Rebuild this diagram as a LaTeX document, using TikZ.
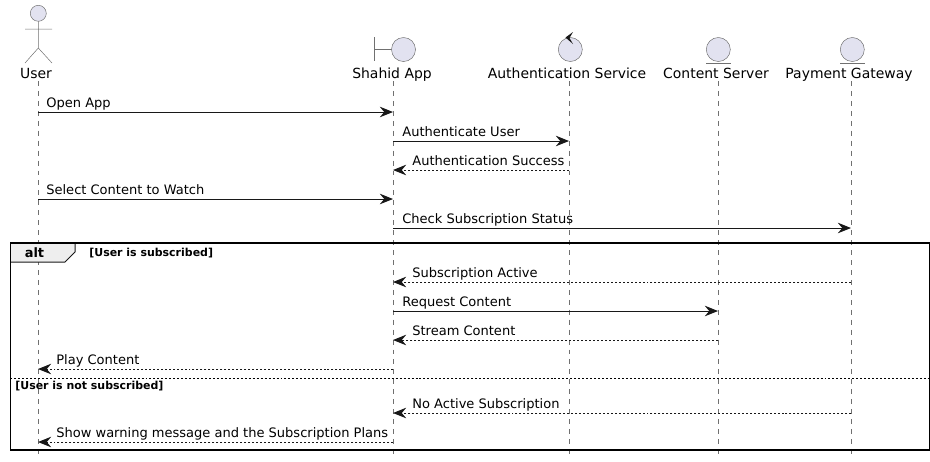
\documentclass[tikz,border=0pt]{standalone}
\usepackage{fontspec}
\setmainfont{DejaVu Sans}
\usepackage{xcolor}
\usepackage{tikz}
\usetikzlibrary{arrows.meta}
\definecolor{partfill}{HTML}{E2E2F0}
\definecolor{partline}{HTML}{181818}
\definecolor{lifegray}{HTML}{707070}
\definecolor{tabfill}{HTML}{EEEEEE}
\tikzset{
  part/.style={draw=lifegray, line width=0.28pt, fill=partfill},
  partstroke/.style={draw=lifegray, line width=0.28pt},
  head/.style={inner sep=0pt, anchor=base, font=\fontsize{7.94}{9}\selectfont, text=black},
  life/.style={draw=lifegray, line width=0.28pt, dash pattern=on 2.83pt off 2.83pt},
  msg/.style={draw=partline, line width=0.57pt, -{Stealth[length=7.5pt, width=6pt, inset=2.5pt]}},
  reply/.style={msg, dash pattern=on 1.13pt off 1.13pt},
  msgtext/.style={inner sep=0pt, anchor=base west, font=\fontsize{7.41}{9}\selectfont, text=black},
  guard/.style={inner sep=0pt, anchor=base west, font=\fontsize{6.24}{8}\selectfont\bfseries, text=black},
}
\begin{document}
\begin{tikzpicture}[x=0.02cm, y=-0.02cm]
    \useasboundingbox (0, 0) rectangle (930, 461);

    \node[head](user) at (36, 78) {User};
    \node[head](app) at (392, 78) {Shahid App};
    \node[head](auth) at (567, 78) {Authentication Service};
    \node[head](content) at (716, 78) {Content Server};
    \node[head](payment) at (849, 78) {Payment Gateway};

    \coordinate(usertop) at (38, 81);
    \coordinate(userend) at (38, 457);
    \coordinate(apptop) at (393, 81);
    \coordinate(append) at (393, 457);
    \coordinate(authtop) at (569, 81);
    \coordinate(authend) at (569, 457);
    \coordinate(contenttop) at (718, 81);
    \coordinate(contentend) at (718, 457);
    \coordinate(paymenttop) at (851, 81);
    \coordinate(paymentend) at (851, 457);

    % lifelines
    \draw[life] (usertop) -- (userend);
    \draw[life] (apptop) -- (append);
    \draw[life] (authtop) -- (authend);
    \draw[life] (contenttop) -- (contentend);
    \draw[life] (paymenttop) -- (paymentend);

    % actor
    \draw[part] (38.3, 13.3) circle [radius=8];
    \draw[partstroke] (38.3, 21.3) -- (38.3, 48)
                      (25, 29) -- (52, 29)
                      (25, 63) -- (38.3, 48) -- (52, 63);

    % boundary
    \draw[partstroke] (374.5, 37) -- (374.5, 61)
                      (374.5, 49.5) -- (391.5, 49.5);
    \draw[part] (403.5, 49.5) circle [radius=12];

    % control
    \draw[part] (570.3, 49.5) circle [radius=12];
    \fill[partline] (565.5, 37.5) -- (573, 32) -- (569.5, 38) -- (573, 44) -- cycle;

    % entities
    \draw[part] (718.3, 49.5) circle [radius=12];
    \draw[partstroke] (706, 63) -- (731, 63);
    \draw[part] (852.3, 49.5) circle [radius=12];
    \draw[partstroke] (840, 63) -- (865, 63);

    % messages
    \draw[msg] (usertop |- 0,112) -- (apptop |- 0,112);
    \draw[msg] (apptop |- 0,141) -- (authtop |- 0,141);
    \draw[reply] (authtop |- 0,170) -- (apptop |- 0,170);
    \draw[msg] (usertop |- 0,199) -- (apptop |- 0,199);
    \draw[msg] (apptop |- 0,228) -- (paymenttop |- 0,228);
    \draw[reply] (paymenttop |- 0,282) -- (apptop |- 0,282);
    \draw[msg] (apptop |- 0,311) -- (contenttop |- 0,311);
    \draw[reply] (contenttop |- 0,340) -- (apptop |- 0,340);
    \draw[reply] (apptop |- 0,369) -- (usertop |- 0,369);
    \draw[reply] (paymenttop |- 0,413) -- (apptop |- 0,413);
    \draw[reply] (apptop |- 0,442) -- (usertop |- 0,442);

    \node[msgtext](open) at (46, 107.7) {Open App};
    \node[msgtext](authuser) at (402, 136.7) {Authenticate User};
    \node[msgtext](authok) at (412, 165.7) {Authentication Success};
    \node[msgtext](select) at (46, 194.7) {Select Content to Watch};
    \node[msgtext](check) at (402, 223.7) {Check Subscription Status};
    \node[msgtext](active) at (412, 277.7) {Subscription Active};
    \node[msgtext](request) at (402, 306.7) {Request Content};
    \node[msgtext](stream) at (412, 335.7) {Stream Content};
    \node[msgtext](play) at (56, 364.7) {Play Content};
    \node[msgtext](noactive) at (412, 408.7) {No Active Subscription};
    \node[msgtext](warning) at (56, 437.7) {Show warning message and the Subscription Plans};

    % alt frame
    \fill[tabfill] (10.5, 243) -- (75, 243) -- (75, 252) -- (65, 262) -- (10.5, 262) -- cycle;
    \draw[partline, line width=0.57pt] (75, 243) -- (75, 252) -- (65, 262) -- (10.5, 262);
    \draw[black, line width=1.1pt] (10.5, 243) rectangle (929.5, 450);
    \draw[black, line width=0.57pt, dash pattern=on 1.13pt off 1.13pt] (10.5, 378) -- (929.5, 378);
    \node[inner sep=0pt, anchor=base, font=\fontsize{7.37}{9}\selectfont\bfseries](alt) at (34.5, 257) {alt};
    \node[guard](subscribed) at (89, 256.5) {[User is subscribed]};
    \node[guard](notsubscribed) at (15, 389) {[User is not subscribed]};
\end{tikzpicture}
\end{document}
